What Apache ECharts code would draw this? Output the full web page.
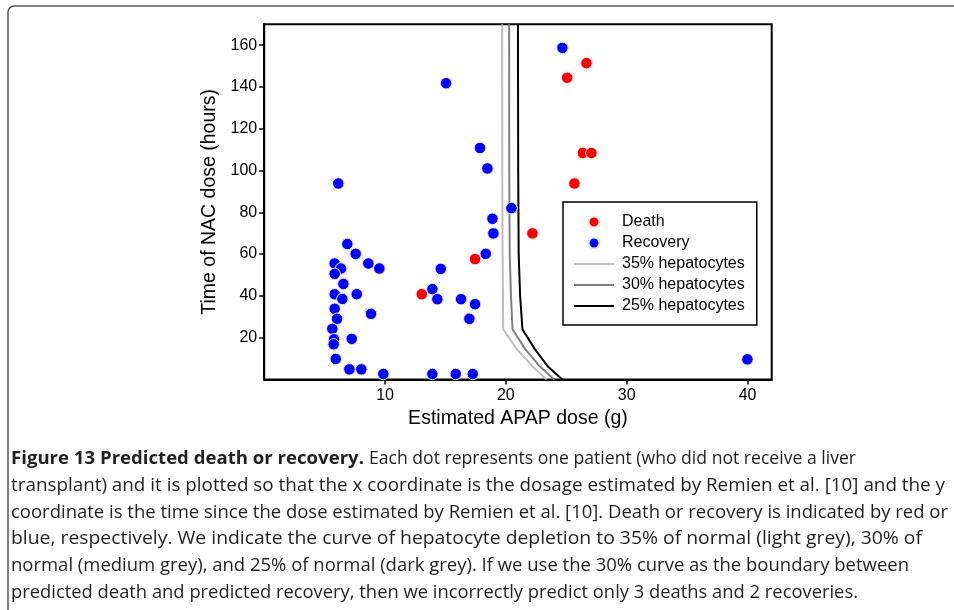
<!DOCTYPE html>
<html>
<head>
<meta charset="utf-8">
<script src="https://cdn.jsdelivr.net/npm/echarts@6/dist/echarts.min.js"></script>
<style>
html,body{margin:0;padding:0;background:#fff;}
#chart{width:954px;height:610px;}
</style>
</head>
<body>
<div id="chart"></div>
<script>
// ---- data ----
const xTicks = [10, 20, 30, 40];
const yTicks = [20, 40, 60, 80, 100, 120, 140, 160];

const deathX = [26.67, 25.07, 26.37, 27.08, 25.67, 22.2, 17.45, 13.04];
const deathY = [151.4, 144.4, 108.4, 108.4, 93.8, 69.9, 57.6, 40.8];

const recoveryX = [24.68, 15.05, 17.86, 18.47, 6.13, 20.46, 18.89, 18.97, 18.33, 6.88,
  7.57, 8.62, 9.53, 5.83, 6.36, 5.83, 6.55, 5.83, 6.47, 7.66,
  8.84, 5.83, 6.03, 5.64, 5.78, 5.75, 7.24, 5.92, 7.05, 8.04,
  9.86, 13.92, 14.33, 14.61, 16.29, 17.45, 16.98, 13.92, 15.85, 17.26, 39.99];
const recoveryY = [158.7, 141.8, 110.8, 101.0, 93.8, 82.0, 76.9, 69.9, 60.1, 64.8,
  60.1, 55.5, 53.1, 55.5, 53.1, 50.5, 45.7, 40.8, 38.5, 40.8,
  31.4, 33.8, 29.0, 24.2, 19.2, 16.8, 19.4, 9.8, 4.8, 4.8,
  2.6, 43.2, 38.4, 52.9, 38.4, 36.0, 29.0, 2.6, 2.6, 2.6, 9.6];

const curveY   = [170, 100, 60, 40, 24, 14.5, 6, 0];
const curve35X = [19.69, 19.70, 19.73, 19.76, 19.78, 20.9, 22.25, 23.36];
const curve30X = [20.27, 20.28, 20.32, 20.42, 20.55, 21.6, 22.85, 24.0];
const curve25X = [21.00, 21.02, 21.06, 21.18, 21.37, 22.4, 23.5, 24.67];

const seriesNames = ['Death', 'Recovery', '35% hepatocytes', '30% hepatocytes', '25% hepatocytes'];

const captionBold = 'Figure 13 Predicted death or recovery.';
const captionLines = [
  'Each dot represents one patient (who did not receive a liver',
  'transplant) and it is plotted so that the x coordinate is the dosage estimated by Remien et al. [10] and the y',
  'coordinate is the time since the dose estimated by Remien et al. [10]. Death or recovery is indicated by red or',
  'blue, respectively. We indicate the curve of hepatocyte depletion to 35% of normal (light grey), 30% of',
  'normal (medium grey), and 25% of normal (dark grey). If we use the 30% curve as the boundary between',
  'predicted death and predicted recovery, then we incorrectly predict only 3 deaths and 2 recoveries.'
];

// ---- helpers ----
const zip = (xs, ys) => xs.map((x, i) => [x, ys[i]]);
const FONT = '"Liberation Sans", Arial, sans-serif';
const CAP_FONT = '"Open Sans", "Noto Sans", sans-serif';
const CAP_SIZE = 18.5;
const CAP_COLOR = '#231f20';

const cv = document.createElement('canvas').getContext('2d');
function measure(t, bold) {
  cv.font = (bold ? 'bold ' : '') + CAP_SIZE + 'px ' + CAP_FONT;
  return cv.measureText(t).width;
}
const capLeft = [369, 11, 11, 11, 11, 11];
const capRight = [856, 945, 948, 922, 909, 858];
const capYs = [459, 486, 512.5, 539, 566, 592.5];
const boldLeft = 11, boldRight = 364;

function capText(str, bold, x0, x1, y) {
  const sc = (x1 - x0) / measure(str, bold);
  return {
    type: 'text', silent: true,
    x: x0, y: y, scaleX: sc, scaleY: 1, originX: 0, originY: 0,
    style: {
      text: str, fontFamily: CAP_FONT, fontSize: CAP_SIZE,
      fontWeight: bold ? 'bold' : 'normal', fill: CAP_COLOR,
      verticalAlign: 'middle', align: 'left'
    }
  };
}

const graphics = [
  {
    type: 'rect', silent: true, z: 0,
    shape: { x: 8, y: 6, width: 1000, height: 700, r: 6 },
    style: { fill: 'none', stroke: '#555', lineWidth: 1.5 }
  },
  capText(captionBold, true, boldLeft, boldRight, capYs[0])
];
captionLines.forEach((ln, i) => {
  graphics.push(capText(ln, false, capLeft[i], capRight[i], capYs[i]));
});

const chart = echarts.init(document.getElementById('chart'), null, { renderer: 'canvas' });

const lineSeries = (name, xs, color) => ({
  name: name, type: 'line', data: zip(xs, curveY), symbol: 'none', showSymbol: false,
  smooth: false, lineStyle: { color: color, width: 2 }, itemStyle: { color: color },
  animation: false, z: 2
});
const hiddenSym = { color: 'rgba(0,0,0,0)', borderWidth: 0, borderColor: 'rgba(0,0,0,0)', opacity: 0 };

chart.setOption({
  animation: false,
  textStyle: { fontFamily: FONT },
  grid: {
    left: 264.2, right: 182.3, top: 24.3, bottom: 230.6,
    show: true, borderColor: '#000', borderWidth: 2, containLabel: false
  },
  xAxis: {
    type: 'value', min: 0, max: 42, interval: 10,
    name: 'Estimated APAP dose (g)', nameLocation: 'middle', nameGap: 24,
    nameTextStyle: { fontFamily: FONT, fontSize: 19.5, color: '#000', lineHeight: 20 },
    axisLine: { show: true, onZero: false, lineStyle: { color: '#000', width: 2 } },
    axisTick: { show: true, length: 5, lineStyle: { color: '#000', width: 1.5 }, customValues: xTicks },
    axisLabel: { fontFamily: FONT, fontSize: 16, color: '#000', margin: 8, customValues: xTicks },
    splitLine: { show: false }
  },
  yAxis: {
    type: 'value', min: 0, max: 170, interval: 20,
    name: 'Time of NAC dose (hours)', nameLocation: 'middle', nameGap: 44,
    nameTextStyle: { fontFamily: FONT, fontSize: 19.5, color: '#000', lineHeight: 20 },
    axisLine: { show: true, onZero: false, lineStyle: { color: '#000', width: 2 } },
    axisTick: { show: true, length: 5, lineStyle: { color: '#000', width: 1.5 }, customValues: yTicks },
    axisLabel: { fontFamily: FONT, fontSize: 16, color: '#000', margin: 7, customValues: yTicks },
    splitLine: { show: false }
  },
  legend: {
    orient: 'vertical', left: 563, top: 202,
    padding: [12, 12, 11, 10],
    borderColor: '#000', borderWidth: 1.5, backgroundColor: '#fff',
    itemWidth: 40, itemHeight: 11, itemGap: 5,
    textStyle: { fontFamily: FONT, fontSize: 16, color: '#000', lineHeight: 16, padding: [0, 0, 0, 3] },
    data: [
      { name: seriesNames[0], icon: 'circle' },
      { name: seriesNames[1], icon: 'circle' },
      { name: seriesNames[2], itemStyle: hiddenSym },
      { name: seriesNames[3], itemStyle: hiddenSym },
      { name: seriesNames[4], itemStyle: hiddenSym }
    ],
    selectedMode: false, z: 10
  },
  graphic: graphics,
  series: [
    lineSeries(seriesNames[2], curve35X, '#bdbdbd'),
    lineSeries(seriesNames[3], curve30X, '#7f7f7f'),
    lineSeries(seriesNames[4], curve25X, '#000000'),
    {
      name: seriesNames[0], type: 'scatter', data: zip(deathX, deathY),
      symbol: 'circle', symbolSize: 11.5,
      itemStyle: { color: '#ff0000', borderColor: '#e6e6e6', borderWidth: 1, opacity: 1 },
      z: 3
    },
    {
      name: seriesNames[1], type: 'scatter', data: zip(recoveryX, recoveryY),
      symbol: 'circle', symbolSize: 11.5,
      itemStyle: { color: '#0000ff', borderColor: '#e6e6e6', borderWidth: 1, opacity: 1 },
      z: 3
    }
  ]
});
</script>
</body>
</html>
